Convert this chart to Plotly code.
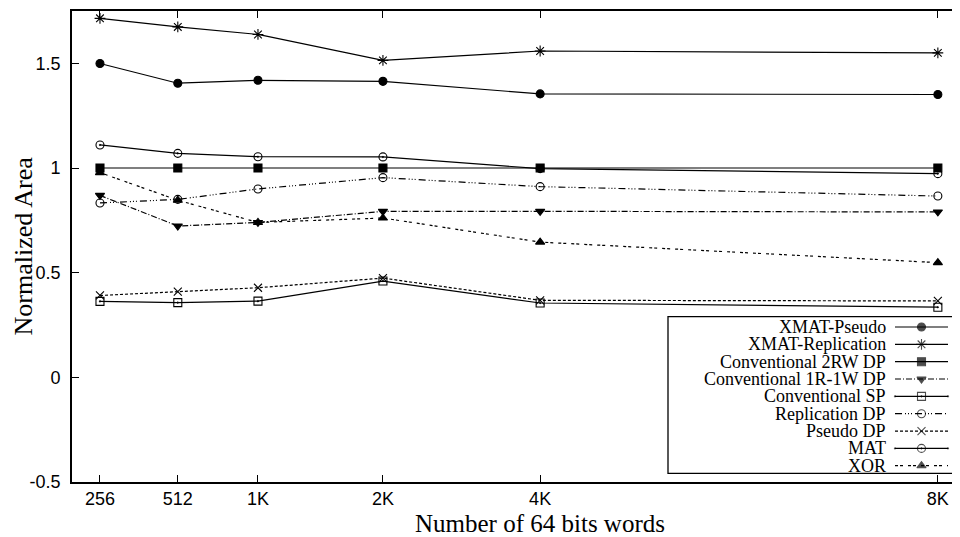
import plotly.graph_objects as go

# ---- data ----
x_labels = ["256", "512", "1K", "2K", "4K", "8K"]
x_pos = [1.0, 1.99, 3.01, 4.60, 6.60, 11.66]

xmat_pseudo = [1.499, 1.405, 1.419, 1.414, 1.354, 1.351]
xmat_replication = [1.715, 1.674, 1.638, 1.514, 1.559, 1.550]
conv_2rw_dp = [1.0, 1.0, 1.0, 1.0, 1.0, 1.0]
conv_1r1w_dp = [0.869, 0.723, 0.740, 0.793, 0.793, 0.790]
conv_sp = [0.363, 0.357, 0.364, 0.460, 0.355, 0.335]
replication_dp = [0.833, 0.850, 0.900, 0.954, 0.911, 0.866]
pseudo_dp = [0.391, 0.409, 0.428, 0.474, 0.368, 0.365]
mat = [1.110, 1.070, 1.054, 1.053, 0.997, 0.973]
xor = [0.978, 0.846, 0.740, 0.761, 0.646, 0.548]

y_tick_vals = [-0.5, 0, 0.5, 1, 1.5]
y_tick_text = ["-0.5", "0", "0.5", "1", "1.5"]

series = [
    ("XMAT-Pseudo", xmat_pseudo, "circle", 8, "solid"),
    ("XMAT-Replication", xmat_replication, "asterisk-open", 9, "solid"),
    ("Conventional 2RW DP", conv_2rw_dp, "square", 8, "solid"),
    ("Conventional 1R-1W DP", conv_1r1w_dp, "triangle-down", 8, "6px,2px,1px,2px"),
    ("Conventional SP", conv_sp, "square-open-dot", 8, "solid"),
    ("Replication DP", replication_dp, "circle-open", 8, "7px,3px,1px,2px,1px,2px,1px,3px"),
    ("Pseudo DP", pseudo_dp, "x-thin-open", 8, "3px,2px"),
    ("MAT", mat, "circle-open-dot", 8, "solid"),
    ("XOR", xor, "triangle-up", 8, "3px,2px,3px,5px"),
]

SERIF = "Liberation Serif, Times New Roman, serif"
SANS = "Liberation Sans, Arial, sans-serif"

# page body adds an 8px offset; the layout compensates for it
ML, MT, MB = 64, 3, 63
FIG_W, FIG_H = 960, 537
PLOT_W = FIG_W - ML
PLOT_H = FIG_H - MT - MB
X_UNIT = 78.6  # pixels per x unit

fig = go.Figure()

for name, vals, sym, size, dash in series:
    fig.add_trace(go.Scatter(
        x=x_pos, y=vals, mode="lines+markers", name=name, showlegend=False,
        line=dict(color="black", width=1.2, dash=dash),
        marker=dict(symbol=sym, size=size, color="black",
                    line=dict(color="black", width=1.1)),
        cliponaxis=False,
    ))

# ---- custom legend (text right-aligned, sample on the right) ----
row0 = PLOT_H - 316          # first row centre, px from plot bottom
row_step = 17.34
for i, (name, vals, sym, size, dash) in enumerate(series):
    yy = row0 - i * row_step
    fig.add_trace(go.Scatter(
        x=[823, 849.5, 876], y=[yy, yy, yy], mode="lines+markers",
        xaxis="x2", yaxis="y2", showlegend=False, hoverinfo="skip",
        line=dict(color="black", width=1.2, dash=dash),
        marker=dict(symbol=sym, size=[0, size, 0], color="black",
                    line=dict(color="black", width=1.1)),
        cliponaxis=False,
    ))
    fig.add_annotation(
        x=815.7, y=yy, xref="x2", yref="y2", text=name, showarrow=False,
        xanchor="right", yanchor="middle",
        font=dict(family=SERIF, size=18, color="black"),
    )

fig.add_shape(type="rect", xref="x2", yref="y2", x0=596, x1=920, y0=8.7, y1=165.3,
              line=dict(color="black", width=1.3), fillcolor="white", layer="below")

# axis titles
fig.add_annotation(x=(532 - ML) / PLOT_W, y=(MT + PLOT_H - 515) / PLOT_H,
                   xref="paper", yref="paper",
                   text="Number of 64 bits words", showarrow=False,
                   xanchor="center", yanchor="middle",
                   font=dict(family=SERIF, size=25, color="black"))
fig.add_annotation(x=(15 - ML) / PLOT_W, y=0.5, xref="paper", yref="paper",
                   text="Normalized Area", showarrow=False, textangle=-90,
                   xanchor="center", yanchor="middle",
                   font=dict(family=SERIF, size=26, color="black"))

fig.update_layout(
    width=FIG_W, height=FIG_H,
    margin=dict(l=ML, r=0, t=MT, b=MB),
    plot_bgcolor="white", paper_bgcolor="white",
    showlegend=False,
    xaxis=dict(
        range=[0.644, 0.644 + PLOT_W / X_UNIT], tickvals=x_pos, ticktext=x_labels,
        ticks="inside", ticklen=7, tickwidth=1, tickcolor="black",
        showline=True, linewidth=1.6, linecolor="black", mirror="ticks",
        showgrid=False, zeroline=False, ticklabelstandoff=0,
        tickfont=dict(family=SANS, size=18, color="black"),
    ),
    yaxis=dict(
        range=[-0.5, 1.75], tickvals=y_tick_vals, ticktext=y_tick_text,
        ticks="inside", ticklen=7, tickwidth=1, tickcolor="black",
        showline=True, linewidth=1.6, linecolor="black", mirror=False,
        showgrid=False, zeroline=False, ticklabelstandoff=6,
        tickfont=dict(family=SANS, size=18, color="black"),
    ),
    xaxis2=dict(overlaying="x", anchor="y2", range=[0, PLOT_W], visible=False,
                fixedrange=True),
    yaxis2=dict(overlaying="y", anchor="x2", range=[0, PLOT_H], visible=False,
                fixedrange=True),
)

fig.write_html("out.html")
